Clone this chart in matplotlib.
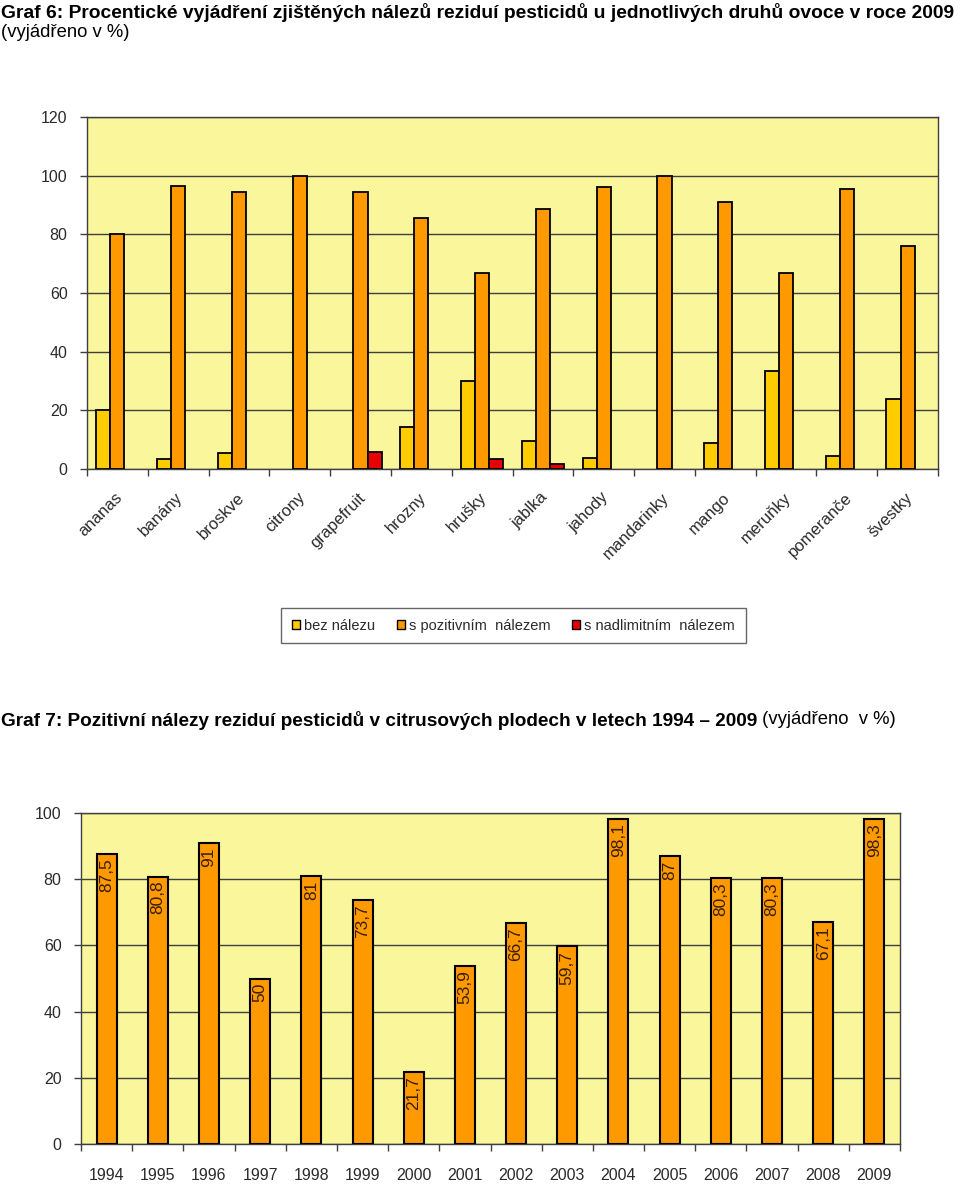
import matplotlib
matplotlib.use("Agg")
import matplotlib.pyplot as plt
import matplotlib.transforms as mtransforms
from matplotlib.patches import Patch
import numpy as np

plt.rcParams['font.family'] = ['Liberation Sans', 'DejaVu Sans']

# ---------------- data: chart 1 ----------------
fruits = ["ananas", "banány", "broskve", "citrony", "grapefruit", "hrozny", "hrušky",
          "jablka", "jahody", "mandarinky", "mango", "meruňky", "pomeranče", "švestky"]
bez_nalezu = [20.0, 3.4, 5.5, 0.0, 0.0, 14.3, 30.0, 9.5, 3.8, 0.0, 8.9, 33.3, 4.4, 23.9]
s_pozitivnim = [80.0, 96.6, 94.5, 100.0, 94.3, 85.7, 66.7, 88.8, 96.2, 100.0, 91.1, 66.7, 95.6, 76.1]
s_nadlimitnim = [0.0, 0.0, 0.0, 0.0, 5.7, 0.0, 3.3, 1.7, 0.0, 0.0, 0.0, 0.0, 0.0, 0.0]
legend_labels = ["bez nálezu", "s pozitivním  nálezem", "s nadlimitním  nálezem"]
y1_ticks = [0, 20, 40, 60, 80, 100, 120]

# ---------------- data: chart 2 ----------------
years = ["1994", "1995", "1996", "1997", "1998", "1999", "2000", "2001",
         "2002", "2003", "2004", "2005", "2006", "2007", "2008", "2009"]
citrus_pos = [87.5, 80.8, 91, 50, 81, 73.7, 21.7, 53.9, 66.7, 59.7, 98.1, 87, 80.3, 80.3, 67.1, 98.3]
y2_ticks = [0, 20, 40, 60, 80, 100]

title1 = "Graf 6: Procentické vyjádření zjištěných nálezů reziduí pesticidů u jednotlivých druhů ovoce v roce 2009"
subtitle1 = "(vyjádřeno v %)"
title2_bold = "Graf 7: Pozitivní nálezy reziduí pesticidů v citrusových plodech v letech 1994 – 2009"
title2_reg = " (vyjádřeno  v %)"

# ---------------- style ----------------
BG = "#F9F69C"
YEL = "#FFCC00"
ORA = "#FF9900"
RED = "#E80000"
GRID = "#3F3F3F"
TXT = "#2A2A2A"

W, H = 960, 1184
fig = plt.figure(figsize=(W / 100, H / 100), dpi=100)

def fx(px):
    return px / W

def fy(py):
    return 1 - py / H

def nz(vals):
    return [v if v > 0 else np.nan for v in vals]

def style_axes(ax, n, yticks, ymax):
    ax.set_facecolor(BG)
    ax.set_xlim(0, n)
    ax.set_ylim(0, ymax)
    ax.set_yticks(yticks)
    ax.set_yticklabels([str(t) for t in yticks])
    ax.yaxis.grid(True, color=GRID, linewidth=1.0)
    ax.set_axisbelow(True)
    for s in ax.spines.values():
        s.set_color(GRID)
        s.set_linewidth(1.0)
    ax.tick_params(axis='y', direction='out', length=5, width=1, color=GRID,
                   labelsize=11.5, labelcolor=TXT, pad=9)
    ax.set_xticks(np.arange(n) + 0.5)
    ax.set_xticks(np.arange(n + 1), minor=True)
    ax.tick_params(axis='x', which='major', length=0)
    ax.tick_params(axis='x', which='minor', direction='out', length=5, width=1, color=GRID)

# ---------------- chart 1 ----------------
ax1 = fig.add_axes([fx(87), fy(469), fx(851), 352 / H])
n1 = len(fruits)
style_axes(ax1, n1, y1_ticks, 120)
x = np.arange(n1) + 0.5
bw = 0.232
ax1.bar(x - bw, nz(bez_nalezu), bw, color=YEL, edgecolor="black", linewidth=1.3, zorder=3)
ax1.bar(x, nz(s_pozitivnim), bw, color=ORA, edgecolor="black", linewidth=1.3, zorder=3)
ax1.bar(x + bw, nz(s_nadlimitnim), bw, color=RED, edgecolor="black", linewidth=1.3, zorder=3)
ax1.set_xticklabels(fruits, rotation=45, ha='right', va='top', fontsize=12, color=TXT)
ax1.tick_params(axis='x', which='major', pad=15)
off = mtransforms.ScaledTranslation(8 / 100, 0, fig.dpi_scale_trans)
for lab in ax1.get_xticklabels():
    lab.set_transform(lab.get_transform() + off)

handles = [Patch(facecolor=c, edgecolor="black", linewidth=1.0) for c in (YEL, ORA, RED)]
leg = fig.legend(handles, legend_labels, loc='center', ncol=3,
                 bbox_to_anchor=(fx(513.5), fy(625.5)), frameon=True, fancybox=False,
                 edgecolor="#404040", fontsize=10.5, handlelength=0.55, handleheight=0.55,
                 handletextpad=0.25, columnspacing=1.5, borderpad=0.75)
leg.get_frame().set_linewidth(1.0)
for t in leg.get_texts():
    t.set_color(TXT)

# ---------------- chart 2 ----------------
ax2 = fig.add_axes([fx(81), fy(1144), fx(819), 331 / H])
n2 = len(years)
style_axes(ax2, n2, y2_ticks, 100)
x2 = np.arange(n2) + 0.5
ax2.bar(x2, citrus_pos, 0.39, color=ORA, edgecolor="black", linewidth=1.5, zorder=3)
ax2.set_xticklabels(years, fontsize=11.5, color=TXT)
ax2.tick_params(axis='x', which='major', pad=17)
for xi, v in zip(x2, citrus_pos):
    lab = f"{v:g}".replace(".", ",")
    ax2.text(xi, v - 1.3, lab, rotation=90, ha='center', va='top', fontsize=12.5,
             color="#3A2000", zorder=4)

# ---------------- titles ----------------
fig.text(fx(1), fy(3), title1, fontsize=13.9, fontweight='bold', ha='left', va='top', color="black")
fig.text(fx(1), fy(24), subtitle1, fontsize=13.3, ha='left', va='top', color="black")

t2 = fig.text(fx(1), fy(711), title2_bold, fontsize=13.7, fontweight='bold', ha='left', va='top',
              color="black")
fig.canvas.draw()
bb = t2.get_window_extent(renderer=fig.canvas.get_renderer())
fig.text(bb.x1 / W, fy(711), title2_reg, fontsize=13.3, ha='left', va='top', color="black")

fig.savefig("out.png", dpi=100)
